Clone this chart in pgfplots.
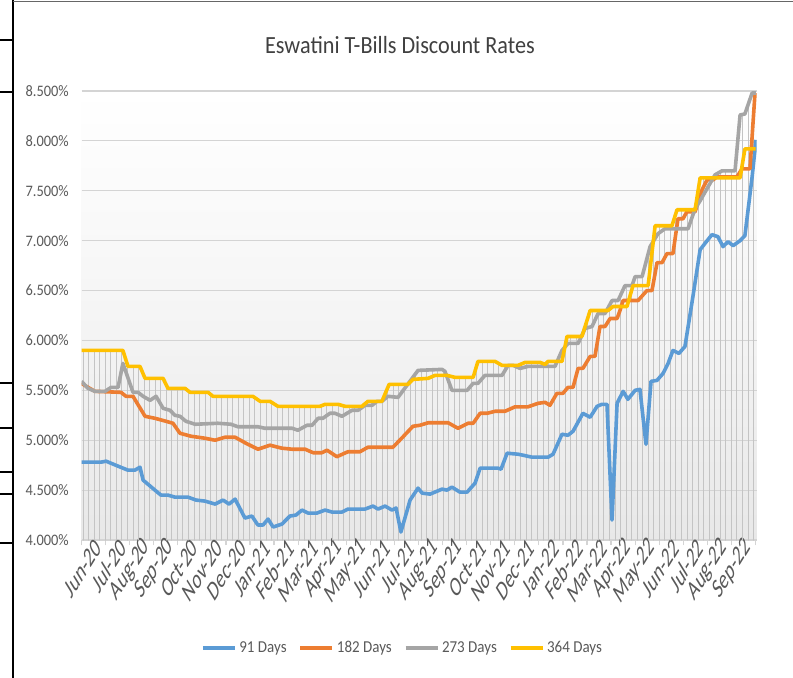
\documentclass[border=0pt]{standalone}
\usepackage{fontspec}
\setmainfont{Carlito}[FakeStretch=0.9]
\usepackage{pgfplots}
\pgfplotsset{compat=1.18}
\usepackage{pgfplotstable}
\usetikzlibrary{patterns.meta}
\definecolor{cA}{HTML}{5B9BD5}
\definecolor{cB}{HTML}{ED7D31}
\definecolor{cC}{HTML}{A5A5A5}
\definecolor{cD}{HTML}{FFC000}
\definecolor{txt}{HTML}{595959}
\definecolor{ttl}{HTML}{404040}
\definecolor{grd}{HTML}{D4D4D4}
\definecolor{drp}{HTML}{C4C4C4}

\pgfplotstableread{
m v
0 4.78
0.81 4.78
1.02 4.79
1.52 4.74
1.93 4.70
2.22 4.70
2.43 4.73
2.56 4.60
3.05 4.50
3.30 4.45
3.59 4.45
3.88 4.43
4.42 4.43
4.76 4.40
5.13 4.39
5.55 4.36
5.88 4.40
6.13 4.36
6.38 4.41
6.79 4.22
7.08 4.24
7.33 4.15
7.54 4.15
7.75 4.21
7.96 4.13
8.33 4.16
8.66 4.24
8.91 4.25
9.16 4.30
9.41 4.27
9.78 4.27
10.12 4.30
10.41 4.28
10.82 4.28
11.07 4.31
11.78 4.31
12.11 4.34
12.32 4.31
12.61 4.34
12.90 4.30
13.07 4.32
13.27 4.08
13.65 4.40
13.98 4.52
14.15 4.47
14.48 4.46
14.98 4.51
15.18 4.50
15.39 4.53
15.72 4.48
16.02 4.48
16.35 4.57
16.56 4.72
17.30 4.72
17.43 4.71
17.68 4.87
18.13 4.86
18.34 4.85
18.72 4.83
19.38 4.83
19.59 4.86
19.96 5.06
20.21 5.05
20.42 5.09
20.83 5.27
21.13 5.23
21.42 5.34
21.62 5.36
21.83 5.36
22.04 4.20
22.25 5.37
22.50 5.49
22.70 5.41
23.00 5.50
23.20 5.51
23.45 4.96
23.66 5.59
23.91 5.60
24.16 5.67
24.37 5.77
24.57 5.90
24.82 5.87
25.07 5.94
25.40 6.44
25.70 6.91
25.99 7.00
26.19 7.06
26.44 7.04
26.65 6.94
26.86 6.99
27.07 6.95
27.36 7.00
27.56 7.05
27.86 7.64
28.02 8.01
}\dataA

\pgfplotstableread{
m v
0 5.57
0.27 5.53
0.56 5.49
1.64 5.48
1.85 5.44
2.14 5.44
2.64 5.24
3.05 5.22
3.51 5.19
3.80 5.17
4.09 5.07
4.55 5.04
5.13 5.02
5.55 5.00
5.96 5.03
6.38 5.03
6.83 4.97
7.33 4.91
7.83 4.95
8.33 4.92
8.75 4.91
9.29 4.91
9.62 4.875
9.99 4.875
10.20 4.90
10.61 4.835
11.07 4.885
11.57 4.885
11.90 4.93
12.94 4.93
13.36 5.035
13.77 5.14
14.06 5.15
14.40 5.175
15.23 5.175
15.64 5.12
16.06 5.17
16.27 5.17
16.56 5.27
16.85 5.27
17.18 5.29
17.59 5.29
18.01 5.335
18.55 5.335
18.97 5.37
19.26 5.38
19.46 5.35
19.75 5.47
20.00 5.47
20.21 5.53
20.42 5.53
20.63 5.72
20.83 5.72
21.13 5.84
21.33 5.84
21.54 6.14
21.75 6.14
21.96 6.22
22.25 6.22
22.37 6.30
22.50 6.40
23.12 6.40
23.49 6.50
23.70 6.50
23.91 6.78
24.12 6.78
24.32 6.87
24.57 6.87
24.78 7.22
24.99 7.22
25.15 7.29
25.49 7.29
25.78 7.51
25.99 7.61
26.24 7.61
26.40 7.64
27.23 7.64
27.44 7.72
27.77 7.72
27.98 8.48
}\dataB

\pgfplotstableread{
m v
0 5.59
0.27 5.52
0.56 5.49
0.98 5.49
1.23 5.53
1.52 5.53
1.72 5.77
2.14 5.48
2.35 5.48
2.56 5.44
2.85 5.40
3.10 5.44
3.39 5.32
3.68 5.30
3.88 5.25
4.09 5.24
4.34 5.19
4.72 5.16
5.67 5.17
6.21 5.16
6.50 5.135
7.33 5.135
7.62 5.12
8.75 5.12
8.99 5.10
9.37 5.15
9.58 5.15
9.83 5.22
10.03 5.22
10.32 5.27
10.53 5.27
10.82 5.24
11.24 5.30
11.49 5.30
11.78 5.35
12.07 5.35
12.28 5.39
12.48 5.39
12.73 5.44
13.15 5.43
13.52 5.55
13.98 5.70
14.98 5.71
15.10 5.69
15.39 5.50
16.02 5.50
16.27 5.57
16.47 5.57
16.76 5.65
17.47 5.65
17.72 5.75
17.93 5.75
18.22 5.72
18.55 5.74
19.67 5.74
19.96 5.90
20.21 5.97
20.63 5.97
20.92 6.12
21.21 6.14
21.46 6.27
21.75 6.27
22.04 6.40
22.29 6.40
22.58 6.55
22.87 6.55
23.00 6.64
23.29 6.64
23.62 6.94
23.95 7.07
24.24 7.12
25.20 7.12
25.49 7.32
25.70 7.40
26.03 7.54
26.32 7.66
26.61 7.70
27.15 7.70
27.36 8.26
27.56 8.27
27.86 8.48
28.02 8.48
}\dataC

\pgfplotstableread{
m v
0 5.90
1.72 5.90
1.93 5.74
2.43 5.74
2.64 5.62
3.39 5.62
3.59 5.52
4.30 5.52
4.51 5.48
5.26 5.48
5.46 5.44
7.12 5.44
7.42 5.39
7.83 5.39
8.16 5.34
9.91 5.34
10.12 5.36
10.66 5.36
10.95 5.34
11.65 5.34
11.90 5.39
12.48 5.39
12.78 5.56
13.56 5.56
13.77 5.61
14.40 5.62
14.69 5.65
15.18 5.65
15.52 5.63
16.27 5.63
16.47 5.79
17.18 5.79
17.47 5.75
18.13 5.75
18.43 5.78
19.05 5.78
19.26 5.76
19.38 5.79
19.96 5.79
20.17 6.04
20.79 6.04
21.13 6.30
21.87 6.30
22.08 6.34
22.66 6.34
22.91 6.55
23.54 6.55
23.83 7.15
24.53 7.15
24.74 7.31
25.49 7.31
25.70 7.63
27.36 7.63
27.56 7.92
28.00 7.92
}\dataD

\begin{document}
\begin{tikzpicture}
\path[use as bounding box] (0,0) rectangle (594.75pt,-508.5pt);
% surrounding frame marks
\draw[black, line width=1.3pt] (9.5pt,0) -- (9.5pt,-508.5pt);
\foreach \yy in {40,92,383,428,472,494,543}
  \draw[black, line width=1.3pt] (0,{-\yy*0.75pt}) -- (9.5pt,{-\yy*0.75pt});
\draw[black!60, line width=0.6pt] (9.5pt,-1pt) -- (594.75pt,-1pt);
\node[font=\fontsize{18.5}{20}\selectfont, text=ttl, anchor=base] at (300pt,-39.75pt) {Eswatini T-Bills Discount Rates};
\begin{axis}[
  at={(61.125pt,-405pt)}, anchor=south west,
  scale only axis, width=506.4pt, height=336.75pt,
  xmin=0, xmax=28.05, ymin=4, ymax=8.5,
  axis background/.style={shade, top color=white, bottom color=black!9, middle color=black!4},
  axis line style={draw=none},
  ytick={4,4.5,5,5.5,6,6.5,7,7.5,8,8.5},
  ymajorgrids, grid style={color=grd, line width=0.9pt},
  xtick={0.5,1.5,...,27.5},
  minor xtick={0,1,...,28},
  xticklabels={Jun-20,Jul-20,Aug-20,Sep-20,Oct-20,Nov-20,Dec-20,Jan-21,Feb-21,Mar-21,Apr-21,May-21,Jun-21,Jul-21,Aug-21,Sep-21,Oct-21,Nov-21,Dec-21,Jan-22,Feb-22,Mar-22,Apr-22,May-22,Jun-22,Jul-22,Aug-22,Sep-22},
  major tick length=0pt, minor tick length=4pt,
  tick align=outside, xtick pos=bottom, ytick pos=left,
  minor tick style={color=grd, line width=0.9pt},
  /pgf/number format/assume math mode=true,
  yticklabel={\pgfmathprintnumber[fixed,fixed zerofill,precision=3]{\tick}\%},
  yticklabel style={font=\fontsize{12}{14}\selectfont, text=txt, anchor=east, xshift=-6pt},
  xticklabel style={font=\fontsize{21.5}{23}\selectfont, text=txt, xscale=0.62, rotate=45, anchor=east, xshift=3.5pt, yshift=-6pt, inner sep=1pt},
  legend columns=4,
  legend style={at={(0.476,-0.2405)}, anchor=center, draw=none, fill=none,
    font=\fontsize{12.5}{15}\selectfont, text=txt,
    /tikz/every even column/.append style={column sep=7pt}},
  legend image code/.code={\draw[#1] (0pt,0pt) -- (24pt,0pt);},
  every axis plot/.append style={line width=2.7pt, line join=round},
]
\addplot[draw=none, line width=0pt, pattern={Lines[angle=90,distance=4.155pt,line width=0.6pt]}, pattern color=drp, forget plot] table[x=m,y=v]{\dataA} \closedcycle;
\addplot[draw=none, line width=0pt, pattern={Lines[angle=90,distance=4.155pt,line width=0.6pt]}, pattern color=drp, forget plot] table[x=m,y=v]{\dataB} \closedcycle;
\addplot[draw=none, line width=0pt, pattern={Lines[angle=90,distance=4.155pt,line width=0.6pt]}, pattern color=drp, forget plot] table[x=m,y=v]{\dataC} \closedcycle;
\addplot[draw=none, line width=0pt, pattern={Lines[angle=90,distance=4.155pt,line width=0.6pt]}, pattern color=drp, forget plot] table[x=m,y=v]{\dataD} \closedcycle;
\addplot[cA] table[x=m,y=v]{\dataA};
\addplot[cB] table[x=m,y=v]{\dataB};
\addplot[cC] table[x=m,y=v]{\dataC};
\addplot[cD] table[x=m,y=v]{\dataD};
\legend{91 Days,182 Days,273 Days,364 Days}
\end{axis}
\end{tikzpicture}
\end{document}
